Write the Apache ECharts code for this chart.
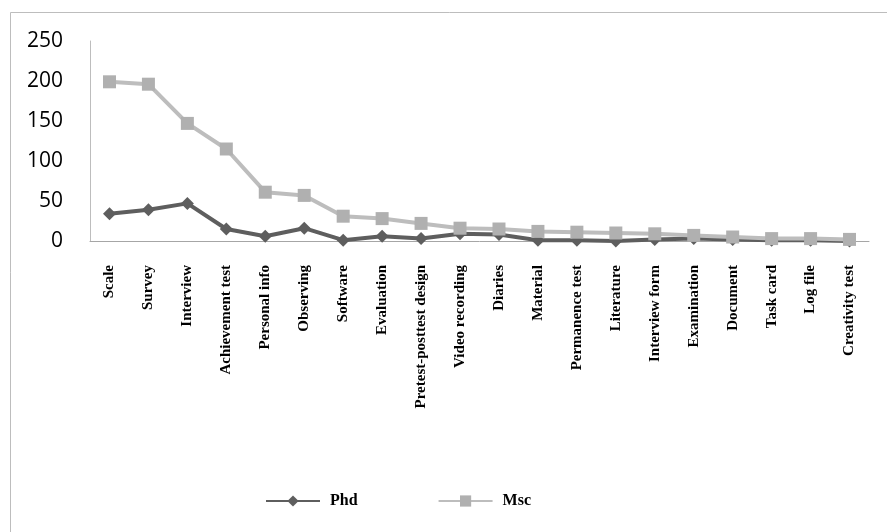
<!DOCTYPE html>
<html>
<head>
<meta charset="utf-8">
<script src="https://cdn.jsdelivr.net/npm/echarts@6/dist/echarts.min.js"></script>
<style>
  html, body { margin: 0; padding: 0; background: #ffffff; }
  #chart { width: 887px; height: 532px; }
</style>
</head>
<body>
<div id="chart"></div>
<script>
// Research methods used in theses, by degree level
const categories = [
  'Scale', 'Survey', 'Interview', 'Achievement test', 'Personal info',
  'Observing', 'Software', 'Evaluation', 'Pretest-posttest design', 'Video recording',
  'Diaries', 'Material', 'Permanence test', 'Literature', 'Interview form',
  'Examination', 'Document', 'Task card', 'Log file', 'Creativity test'
];
const phdValues = [34, 39, 47, 15, 6, 16, 1, 6, 3, 9, 8, 1, 1, 0, 2, 3, 2, 1, 1, 0];
const mscValues = [199, 196, 147, 115, 61, 57, 31, 28, 22, 16, 15, 12, 11, 10, 9, 7, 5, 3, 3, 2];
const yTicks = { min: 0, max: 250, interval: 50 };

const chart = echarts.init(document.getElementById('chart'), null, { renderer: 'canvas' });

chart.setOption({
  backgroundColor: '#ffffff',
  animation: false,
  graphic: [{
    type: 'rect',
    left: 8, top: 10,
    shape: { width: 900, height: 540 },
    style: { fill: 'none', stroke: '#bdbdbd', lineWidth: 1 },
    silent: true,
    z: -1
  }],
  grid: { left: 90, right: 18, top: 41, bottom: 291, containLabel: false },
  legend: {
    left: 260,
    top: 488,
    itemWidth: 54,
    itemHeight: 14,
    itemGap: 80,
    textStyle: {
      fontFamily: 'Liberation Serif',
      fontWeight: 'bold',
      fontSize: 16,
      color: '#000000',
      padding: [0, 0, 0, 5]
    },
    data: ['Phd', 'Msc']
  },
  xAxis: {
    type: 'category',
    data: categories,
    boundaryGap: true,
    axisLine: { show: true, lineStyle: { color: '#a6a6a6', width: 1 } },
    axisTick: { show: false },
    axisLabel: {
      interval: 0,
      rotate: 90,
      margin: 24,
      fontFamily: 'Liberation Serif',
      fontWeight: 'bold',
      fontSize: 15,
      color: '#000000'
    }
  },
  yAxis: {
    type: 'value',
    min: yTicks.min,
    max: yTicks.max,
    interval: yTicks.interval,
    axisLine: { show: true, lineStyle: { color: '#bdbdbd', width: 1 } },
    axisTick: { show: false },
    splitLine: { show: false },
    axisLabel: {
      margin: 27,
      fontFamily: 'Open Sans',
      fontSize: 21,
      color: '#000000'
    }
  },
  series: [
    {
      name: 'Phd',
      type: 'line',
      data: phdValues,
      symbol: 'diamond',
      symbolSize: 13,
      itemStyle: { color: '#5e5e5e' },
      lineStyle: { color: '#5e5e5e', width: 4 }
    },
    {
      name: 'Msc',
      type: 'line',
      data: mscValues,
      symbol: 'rect',
      symbolSize: 13,
      itemStyle: { color: '#b0b0b0' },
      lineStyle: { color: '#bdbdbd', width: 4 }
    }
  ]
});
</script>
</body>
</html>
